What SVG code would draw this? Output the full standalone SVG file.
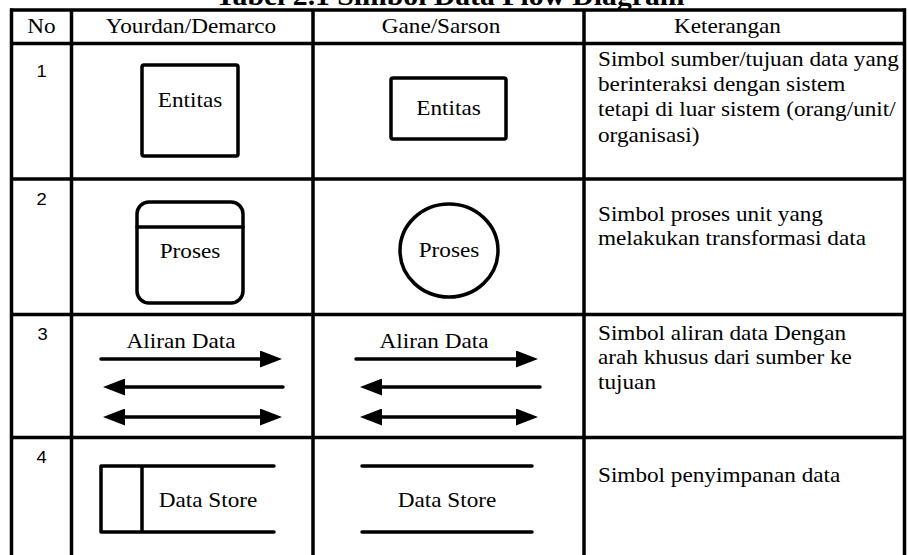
<svg xmlns="http://www.w3.org/2000/svg" width="909" height="555" viewBox="0 0 909 555">
<defs>
<style>
.tx{font-family:"Liberation Serif","Times New Roman",serif;font-size:21.5px;fill:#000}
.c{text-anchor:middle}
.num{font-family:"Liberation Sans",Arial,sans-serif;font-size:17px;fill:#000;text-anchor:middle}
.title{font-family:"Liberation Serif","Times New Roman",serif;font-size:27.5px;font-weight:bold;fill:#000;text-anchor:middle}
.grid{stroke:#000;stroke-width:3.5;fill:none}
.sh{stroke:#000;stroke-width:3.5;fill:none;stroke-linejoin:round;stroke-linecap:round}
.ar{stroke:#000;stroke-width:3.5;fill:none;stroke-linecap:round}
</style>
<marker id="ah" markerUnits="userSpaceOnUse" markerWidth="22" markerHeight="17" viewBox="0 0 22 17" refX="10" refY="8.5" orient="auto-start-reverse">
<path d="M0,0 L22,8.5 L0,17 Z" fill="#000"/>
</marker>
</defs>
<rect width="909" height="555" fill="#fff"/>

<text class="title" transform="translate(450 4.5) scale(1.08 1)">Tabel 2.1 Simbol Data Flow Diagram</text>

<g id="table">
<path class="grid" d="M10,10 H906 M10,43.5 H906 M10,179 H906 M10,314.5 H906 M10,437.5 H906"/>
<path class="grid" d="M11.5,8.5 V555 M71.5,10 V555 M313,10 V555 M584,10 V555 M904.5,8.5 V555"/>
</g>

<g id="header">
<text class="tx c" transform="translate(41.5 33) scale(1.08 1)">No</text>
<text class="tx c" transform="translate(191 33) scale(1.08 1)">Yourdan/Demarco</text>
<text class="tx c" transform="translate(441 33) scale(1.08 1)">Gane/Sarson</text>
<text class="tx c" transform="translate(727.5 33) scale(1.08 1)">Keterangan</text>
</g>

<g id="numbers">
<text class="num" transform="translate(41.5 77) scale(1.08 1)">1</text>
<text class="num" transform="translate(41.5 205) scale(1.08 1)">2</text>
<text class="num" transform="translate(42.5 340) scale(1.08 1)">3</text>
<text class="num" transform="translate(41.5 463) scale(1.08 1)">4</text>
</g>

<g id="entitas-yourdan">
<rect class="sh" x="142" y="65" width="96" height="91" rx="2"/>
<text class="tx c" transform="translate(190 107) scale(1.08 1)">Entitas</text>
</g>
<g id="entitas-gane">
<rect class="sh" x="391" y="78" width="115" height="61" rx="2"/>
<text class="tx c" transform="translate(448.5 115) scale(1.08 1)">Entitas</text>
</g>

<g id="proses-yourdan">
<rect class="sh" x="137" y="202" width="106" height="101" rx="12"/>
<line class="sh" x1="137" y1="227" x2="243" y2="227"/>
<text class="tx c" transform="translate(190 258) scale(1.08 1)">Proses</text>
</g>
<g id="proses-gane">
<ellipse class="sh" cx="449" cy="250.5" rx="49" ry="46.5"/>
<text class="tx c" transform="translate(449 257) scale(1.08 1)">Proses</text>
</g>

<g id="aliran-yourdan">
<text class="tx c" transform="translate(181 348) scale(1.08 1)">Aliran Data</text>
</g>
<g id="aliran-gane">
<text class="tx c" transform="translate(434 348) scale(1.08 1)">Aliran Data</text>
</g>

<g id="connectors">
<line class="ar" x1="101" y1="359" x2="270" y2="359" marker-end="url(#ah)"/>
<line class="ar" x1="115" y1="387" x2="283" y2="387" marker-start="url(#ah)"/>
<line class="ar" x1="115" y1="417" x2="270" y2="417" marker-start="url(#ah)" marker-end="url(#ah)"/>
<line class="ar" x1="356" y1="359" x2="526" y2="359" marker-end="url(#ah)"/>
<line class="ar" x1="372" y1="387" x2="540" y2="387" marker-start="url(#ah)"/>
<line class="ar" x1="372" y1="417" x2="526" y2="417" marker-start="url(#ah)" marker-end="url(#ah)"/>
</g>

<g id="datastore-yourdan">
<path class="sh" d="M274,466 H101 V532 H274 M142,466 V532"/>
<text class="tx c" transform="translate(208 507) scale(1.08 1)">Data Store</text>
</g>
<g id="datastore-gane">
<path class="sh" d="M362,466 H532 M362,532 H532"/>
<text class="tx c" transform="translate(447 507) scale(1.08 1)">Data Store</text>
</g>

<g id="keterangan">
<text class="tx" transform="translate(598 65.5) scale(1.08 1)"><tspan x="0" y="0">Simbol sumber/tujuan data yang</tspan><tspan x="0" y="25.5">berinteraksi dengan sistem</tspan><tspan x="0" y="51">tetapi di luar sistem (orang/unit/</tspan><tspan x="0" y="76.5">organisasi)</tspan></text>
<text class="tx" transform="translate(598 220.5) scale(1.08 1)"><tspan x="0" y="0">Simbol proses unit yang</tspan><tspan x="0" y="25">melakukan transformasi data</tspan></text>
<text class="tx" transform="translate(598 340) scale(1.08 1)"><tspan x="0" y="0">Simbol aliran data Dengan</tspan><tspan x="0" y="24.5">arah khusus dari sumber ke</tspan><tspan x="0" y="49">tujuan</tspan></text>
<text class="tx" transform="translate(598 482) scale(1.08 1)">Simbol penyimpanan data</text>
</g>
</svg>
